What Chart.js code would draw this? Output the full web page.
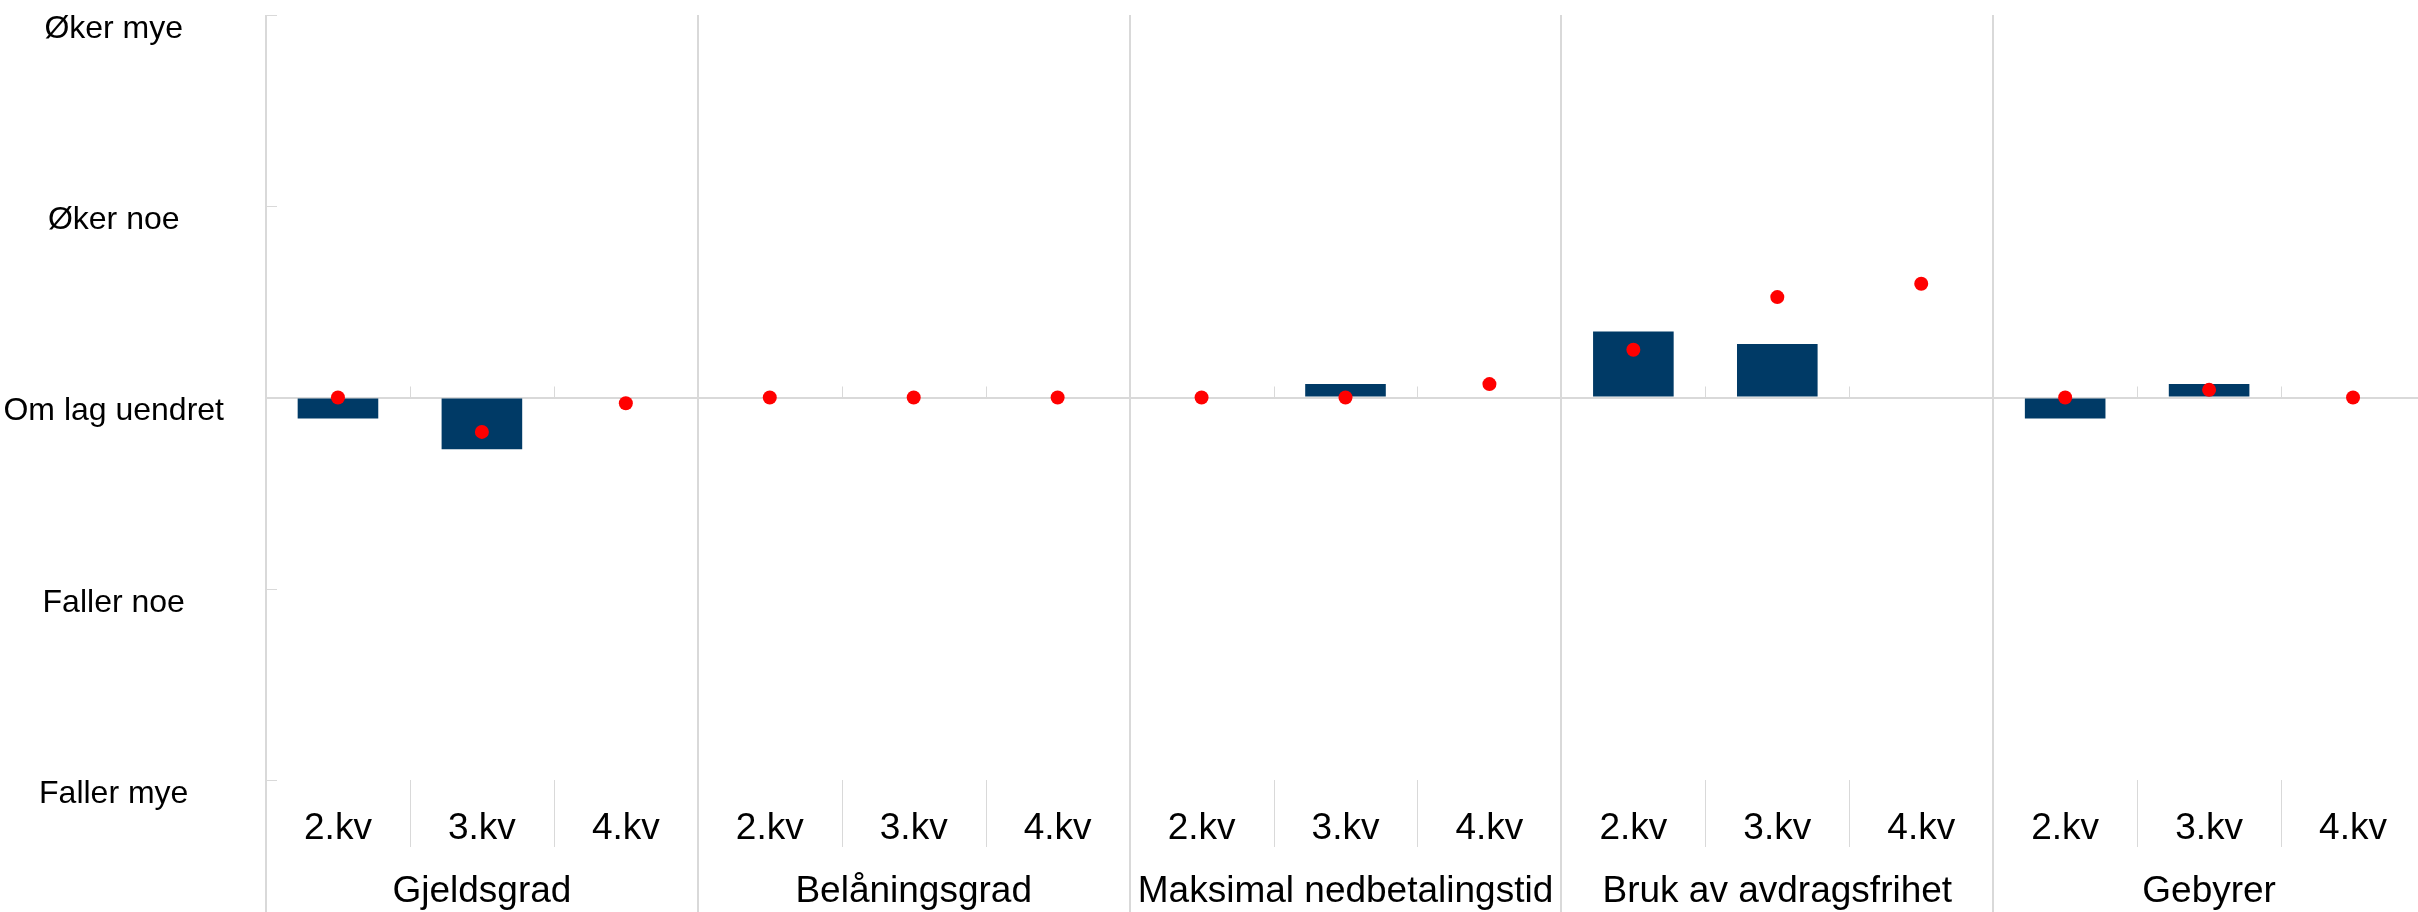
<!DOCTYPE html>
<html>
<head>
<meta charset="utf-8">
<script src="https://cdn.jsdelivr.net/npm/chart.js@4/dist/chart.umd.min.js"></script>
<style>
    html, body { margin: 0; padding: 0; background: #fff; overflow: hidden; }
    #wrap { width: 2432px; height: 912px; }
</style>
</head>
<body>
<div id="wrap"><canvas id="myChart" width="2432" height="912"></canvas></div>
<script>
var groups = ['Gjeldsgrad', 'Belåningsgrad', 'Maksimal nedbetalingstid', 'Bruk av avdragsfrihet', 'Gebyrer'];
var quarters = ['2.kv', '3.kv', '4.kv'];
var yLabels = ['Faller mye', 'Faller noe', 'Om lag uendret', 'Øker noe', 'Øker mye'];

// blue bars
var barValues = [-0.11, -0.27, 0, 0, 0, 0, 0, 0.07, 0, 0.345, 0.28, 0, -0.11, 0.07, 0];
// red dots
var dotValues = [0, -0.18, -0.03, 0, 0, 0, 0, 0, 0.07, 0.25, 0.525, 0.595, 0, 0.04, 0];

var fontFamily = '"Liberation Sans", Arial, sans-serif';

// one label per quarter in every group
var labels = [];
for (var g = 0; g < groups.length; g++) {
    for (var q = 0; q < quarters.length; q++) {
        labels.push(quarters[q]);
    }
}

// group lines, small separators and inward y ticks
var separators = {
    id: 'separators',
    beforeDatasetsDraw: function(chart) {
        var ctx = chart.ctx;
        var x = chart.scales.x;
        var y = chart.scales.y;
        var area = chart.chartArea;
        var n = x.ticks.length;
        var step = x.width / n;
        var zero = y.getPixelForValue(0);

        ctx.save();
        ctx.strokeStyle = '#d9d9d9';
        for (var i = 0; i <= n; i++) {
            var px = x.left + i * step;
            ctx.beginPath();
            if (i % quarters.length == 0) {
                ctx.lineWidth = 2;
                px = Math.round(px);
                ctx.moveTo(px, area.top);
                ctx.lineTo(px, chart.height);
            } else {
                ctx.lineWidth = 1;
                px = Math.round(px) + 0.5;
                ctx.moveTo(px, zero - 11);
                ctx.lineTo(px, zero);
                ctx.moveTo(px, area.bottom);
                ctx.lineTo(px, x.bottom);
            }
            ctx.stroke();
        }

        ctx.lineWidth = 1;
        y.ticks.forEach(function(t) {
            var py = Math.round(y.getPixelForValue(t.value)) + 0.5;
            ctx.beginPath();
            ctx.moveTo(area.left, py);
            ctx.lineTo(area.left + 11, py);
            ctx.stroke();
        });
        ctx.restore();
    }
};

var ctx = document.getElementById('myChart').getContext('2d');

var myChart = new Chart(ctx, {
    type: 'bar',
    data: {
        labels: labels,
        datasets: [{
            type: 'line',
            data: dotValues,
            showLine: false,
            pointRadius: 7,
            pointBackgroundColor: '#ff0000',
            pointBorderWidth: 0,
            borderColor: '#ff0000',
            order: 0
        }, {
            data: barValues,
            backgroundColor: '#003a66',
            barPercentage: 0.56,
            categoryPercentage: 1,
            order: 1
        }]
    },
    options: {
        responsive: false,
        animation: false,
        devicePixelRatio: 1,
        layout: { padding: { top: 15, left: 0, right: 0, bottom: 0 } },
        plugins: {
            legend: { display: false },
            tooltip: { enabled: false }
        },
        scales: {
            x: {
                offset: true,
                weight: 0,
                afterFit: function(scale) {
                    scale.height = 67;
                },
                grid: { display: false },
                border: { display: false },
                ticks: {
                    autoSkip: false,
                    maxRotation: 0,
                    padding: 19,
                    color: '#000',
                    font: { family: fontFamily, size: 37 }
                }
            },
            x2: {
                type: 'category',
                labels: groups,
                position: 'bottom',
                offset: true,
                weight: 1,
                afterFit: function(scale) {
                    scale.height = 65;
                },
                grid: { display: false },
                border: { display: false },
                ticks: {
                    autoSkip: false,
                    maxRotation: 0,
                    padding: 15,
                    color: '#000',
                    font: { family: fontFamily, size: 37 }
                }
            },
            y: {
                min: -2,
                max: 2,
                afterFit: function(scale) {
                    scale.width = 266;
                    scale.paddingTop = 0;
                    scale.paddingBottom = 0;
                },
                grid: {
                    drawTicks: false,
                    lineWidth: 2,
                    color: function(c) {
                        return (c.tick && c.tick.value === 0) ? '#d9d9d9' : 'rgba(0,0,0,0)';
                    }
                },
                border: { display: false },
                ticks: {
                    stepSize: 1,
                    crossAlign: 'center',
                    padding: 42,
                    labelOffset: 14,
                    color: '#000',
                    font: { family: fontFamily, size: 32 },
                    callback: function(value) {
                        return yLabels[value + 2];
                    }
                }
            }
        }
    },
    plugins: [separators]
});
</script>
</body>
</html>
